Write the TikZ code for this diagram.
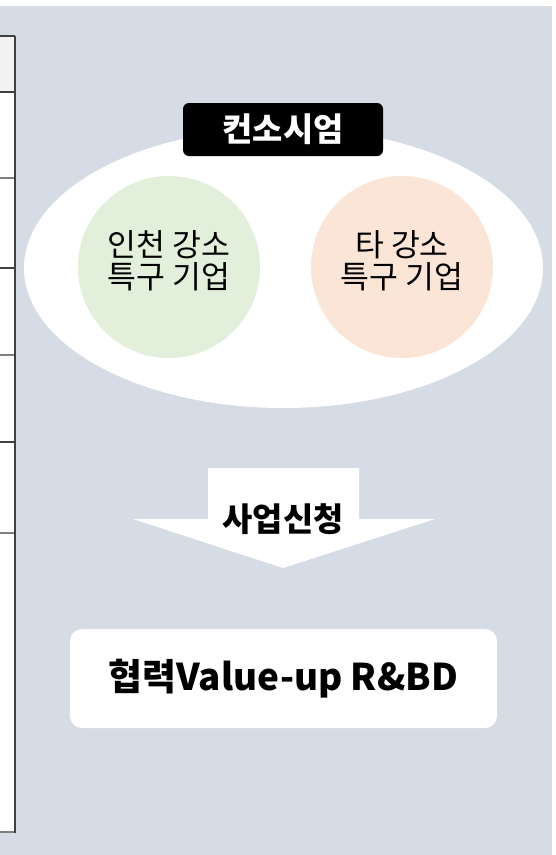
\documentclass[tikz,border=0pt]{standalone}
\usepackage{fontspec}
\setmainfont{Noto Sans CJK KR}
\usetikzlibrary{shapes.geometric}
\definecolor{bgblue}{HTML}{D6DCE5}
\definecolor{hdrgray}{HTML}{F2F2F2}
\definecolor{tblgray}{HTML}{7F7F7F}
\definecolor{tbldark}{HTML}{404040}
\definecolor{greenfill}{HTML}{E2EFDA}
\definecolor{orangefill}{HTML}{FBE5D6}
\tikzset{
  company/.style={circle, minimum size=182bp, inner sep=0pt},
  circtext/.style={align=center, inner sep=0pt,
    font=\fontsize{31.5}{32}\selectfont, text=black},
  darkline/.style={draw=tbldark, line width=1.2bp},
  lightline/.style={draw=tblgray, line width=1.2bp},
  boldlabel/.style={font=\fontsize{33}{36}\selectfont\bfseries},
}
\begin{document}
\begin{tikzpicture}[x=1bp,y=-1bp]
  % page and background
  \useasboundingbox (0,0) rectangle (556,855);
  \fill[white] (0,0) rectangle (556,855);
  \fill[bgblue] (0,6) rectangle (552,855);
  % partial table at left
  \fill[white] (0,36) rectangle (15,832);
  \fill[hdrgray] (0,36) rectangle (15,92);
  \draw[darkline] (0,36) -- (15,36);
  \draw[darkline] (0,92) -- (15,92);
  \draw[lightline] (0,178) -- (15,178);
  \draw[darkline] (0,268) -- (15,268);
  \draw[lightline] (0,355) -- (15,355);
  \draw[darkline] (0,442) -- (15,442);
  \draw[lightline] (0,533) -- (15,533);
  \draw[draw=tblgray, line width=2bp] (0,832) -- (15.5,832);
  \draw[draw=tbldark, line width=1.4bp] (15,36) -- (15,833);
  % consortium ellipse
  \fill[white] (283.5,268) ellipse [x radius=259.5, y radius=140];
  \node[company, fill=greenfill] (incheon) at (169,267) {};
  \node[circtext] (incheontext) at (169,261) {인천 강소\\특구 기업};
  \node[company, fill=orangefill] (other) at (402,267) {};
  \node[circtext] (othertext) at (402,261) {타 강소\\특구 기업};
  \node[fill=black, text=white, rounded corners=6bp, minimum width=200bp,
        minimum height=53bp, inner sep=0pt, boldlabel] (consortium) at (283,129.5) {컨소시엄};
  % down arrow
  \fill[white] (208,468) -- (359,468) -- (359,519) -- (435,519) -- (283,568)
     -- (133,519) -- (208,519) -- cycle;
  \node[boldlabel, text=black] (apply) at (283,519) {사업신청};
  % result box
  \node[fill=white, rounded corners=12bp, minimum width=427bp, minimum height=99bp,
        inner sep=0pt, font=\fontsize{37}{40}\selectfont\bfseries, text=black]
        (result) at (283.5,678.5) {협력Value-up R\&BD};
\end{tikzpicture}
\end{document}
